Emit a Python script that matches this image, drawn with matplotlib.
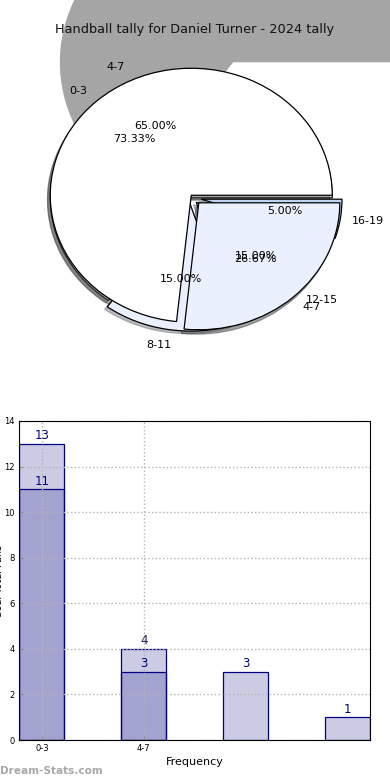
import matplotlib
matplotlib.use("Agg")
import matplotlib.pyplot as plt
from matplotlib.patches import Shadow

# Data
title = "Handball tally for Daniel Turner - 2024 tally"
labels_all = ["4-7", "8-11", "12-15", "16-19"]
values_all = [13, 3, 3, 1]
labels_top = ["0-3", "4-7"]
values_top = [11, 4]
bar_values_light = [13, 4, 3, 1]
bar_values_dark = [11, 3]
bar_ticks = ["0-3", "4-7"]
y_ticks = [0, 2, 4, 6, 8, 10, 12, 14]


def nudge(txt, dx, dy):
    x, y = txt.get_position()
    txt.set_position((x + dx, y + dy))


W, H = 390.0, 780.0
fig = plt.figure(figsize=(3.9, 7.8), dpi=100)

# Pie axes, stretched so the pie is an ellipse
ax = fig.add_axes([15 / W, 1 - 354 / H, 352.5 / W, 317.5 / H])

# The stray big shadow at the top
ghost = ax.pie(values_all, center=(0.298, 1.047), radius=1.23, startangle=0,
               colors=["#a5a5a5", "none", "none", "none"],
               wedgeprops={"linewidth": 0})
for w in ghost[0]:
    w.set_zorder(0.5)

pie_colors = ["#ffffff", "#eaf0fd", "#e4ecfb", "#bcd4f0"]
text_style = {"fontsize": 8}
edge_style = {"edgecolor": "black", "linewidth": 0.9}
n_start = len(ax.patches)
res_all = ax.pie(values_all, labels=labels_all, explode=(0, 0.05, 0.05, 0.07),
                 center=(0, -0.02), colors=pie_colors, autopct="%1.2f%%",
                 shadow={"ox": -0.014, "oy": -0.014, "shade": 0.5}, startangle=0,
                 textprops=text_style, wedgeprops=edge_style)
for p in ax.patches[n_start:]:
    if isinstance(p, Shadow):
        p.set_zorder(0.7)
res_all[0][0].set_zorder(0.8)

n_before = len(ax.patches)
res_top = ax.pie(values_top, labels=labels_top, explode=(0, 0.08),
                 colors=pie_colors[:2], autopct="%1.2f%%",
                 shadow={"ox": -0.014, "oy": -0.025, "shade": 0.7}, startangle=0,
                 textprops=text_style, wedgeprops=edge_style)
# second pie goes over the first one, its shadow only over the big white wedge
for p in ax.patches[n_before:]:
    p.set_zorder(0.9 if isinstance(p, Shadow) else 1.1)

ax.set_aspect("auto")
ax.set_xlim(-1.25, 1.25)
ax.set_ylim(-1.25, 1.25)

# nudge a few labels that sit off from the default spot
names = res_all[1]
nudge(names[0], 0.03, 0.05)
nudge(names[1], 0.04, -0.02)
nudge(names[2], 0.0, 0.01)
nudge(names[3], -0.015, 0.0)
pcts = res_all[2]
nudge(pcts[0], 0.015, 0.03)
nudge(pcts[1], 0.03, 0.0)

fig.text(0.5, 1 - 30 / H, title, ha="center", va="center", fontsize=9.3, color="#111111")

# Bars
bx = fig.add_axes([19 / W, 1 - 740 / H, 351 / W, 319 / H])
x_light = range(len(bar_values_light))
x_dark = range(len(bar_values_dark))
fill = (0, 0, 0.5, 0.2)
bx.bar(x_light, bar_values_light, width=0.443, facecolor=fill, edgecolor="navy", linewidth=0.9)
bx.bar(x_dark, bar_values_dark, width=0.443, facecolor=fill, edgecolor="navy", linewidth=0.9)
for i, v in zip(x_light, bar_values_light):
    bx.text(i, v + 0.07, str(v), ha="center", va="bottom", fontsize=8.5,
            color="navy" if i != 1 else "#222255")
for i, v in zip(x_dark, bar_values_dark):
    bx.text(i, v + 0.07, str(v), ha="center", va="bottom", fontsize=8.5, color="navy")

bx.set_xlim(-0.225, 3.225)
bx.set_ylim(0, 14)
bx.set_xticks(list(x_dark))
bx.set_xticklabels(bar_ticks)
bx.set_yticks(y_ticks)
bx.tick_params(labelsize=6, length=3, direction="in", pad=3, color="#888888")
bx.grid(True, linestyle=":", color="#b4b4b4", linewidth=1)
bx.set_axisbelow(False)
for spine in bx.spines.values():
    spine.set_zorder(5)
bx.set_xlabel("Frequency", fontsize=8, labelpad=3)
fig.text(-6 / W, 1 - 581 / H, "Goal Total Fans", rotation=90, ha="left", va="center", fontsize=7)

fig.text(0, 1 - 771 / H, "Dream-Stats.com", ha="left", va="center", fontsize=7.6,
         fontweight="bold", color="#a8a8a8")

fig.savefig("out.png", dpi=100)
